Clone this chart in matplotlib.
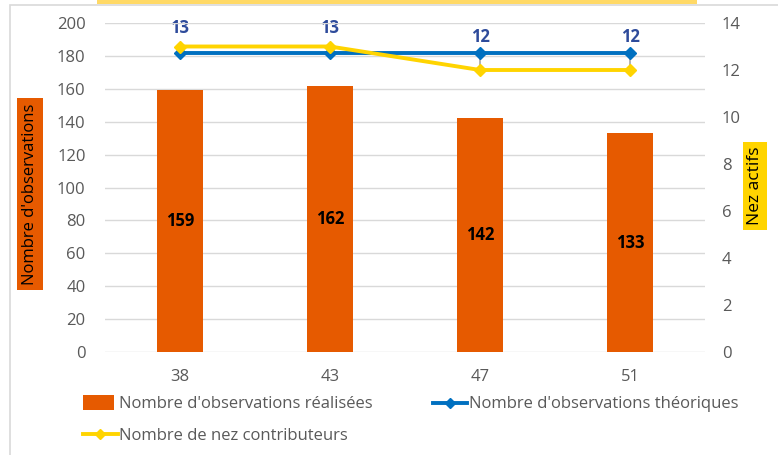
import matplotlib
matplotlib.use("Agg")
import matplotlib.pyplot as plt
from matplotlib.lines import Line2D
from matplotlib.patches import Patch, Rectangle
from matplotlib.legend_handler import HandlerPatch
import numpy as np

plt.rcParams['font.family'] = ['Open Sans', 'DejaVu Sans']

categories = ["38", "43", "47", "51"]
obs_realisees = [159, 162, 142, 133]
obs_theoriques = [182, 182, 182, 182]
nez_contributeurs = [13, 13, 12, 12]

ORANGE = "#E65A00"
BLUE = "#0070C0"
YELLOW = "#FFD400"
LABEL_BLUE = "#2E4B9B"
GRID = "#D9D9D9"
TICK = "#595959"

fig = plt.figure(figsize=(7.78, 4.55), dpi=100)
ax = fig.add_axes([105/778, 1-352/455, 600/778, 329/455])
ax2 = ax.twinx()

x = np.arange(len(categories))
ax.bar(x, obs_realisees, width=0.31, color=ORANGE, zorder=2)
for xi, v in zip(x, obs_realisees):
    ax.text(xi, v/2, str(v), ha='center', va='center', fontsize=12,
            fontweight='bold', color='black', zorder=5)

ax.set_xlim(-0.5, len(categories)-0.5)
ax.set_ylim(0, 200)
ax.set_yticks(range(0, 201, 20))
ax2.set_ylim(0, 14)
ax2.set_yticks(range(0, 15, 2))

# high-low style connectors between theoretical and contributors
scale = 200/14
ax.vlines(x, [n*scale for n in nez_contributeurs], obs_theoriques,
          colors="#A6A6A6", linewidth=1.2, zorder=3)

ax.plot(x, obs_theoriques, color=BLUE, linewidth=2.8, marker='D',
        markersize=6.5, zorder=4)
ax.plot(x, [n*scale for n in nez_contributeurs], color=YELLOW, linewidth=2.8,
        marker='D', markersize=6.5, zorder=4.5)

label_offsets = [13.5, 13.5, 24, 24]
for xi, n, off in zip(x, nez_contributeurs, label_offsets):
    ax2.annotate(str(n), (xi, n), xytext=(0, off), textcoords='offset points',
                 ha='center', va='center', fontsize=12, fontweight='bold',
                 color=LABEL_BLUE, zorder=6)

ax.set_zorder(ax2.get_zorder()+1)
ax.patch.set_visible(False)
ax2.set_zorder(0)

for a in (ax, ax2):
    for s in a.spines.values():
        s.set_visible(False)
    a.tick_params(length=0, colors=TICK, labelsize=12)

ax.grid(axis='y', color=GRID, linewidth=1.0, zorder=0)
ax.set_axisbelow(True)
ax.set_xticks(x)
ax.set_xticklabels(categories)
ax.tick_params(axis='x', pad=12)
ax.tick_params(axis='y', pad=14)
ax2.tick_params(axis='y', pad=12)

fig.text(30/778, 1-194/455, "Nombre d'observations", rotation=90, ha='center',
         va='center', fontsize=12, color='black',
         bbox=dict(boxstyle='square,pad=0.3', facecolor=ORANGE, edgecolor='none'))
fig.text(755/778, 1-186/455, "Nez actifs", rotation=90, ha='center',
         va='center', fontsize=12.5, color='black',
         bbox=dict(boxstyle='square,pad=0.25', facecolor=YELLOW, edgecolor='none'))


def narrow_patch(legend, orig_handle, xdescent, ydescent, width, height, fontsize):
    return Rectangle((-xdescent, -ydescent - 1), width*0.9, height + 2)


handles = [Patch(facecolor=ORANGE, edgecolor='none'),
           Line2D([0], [0], color=YELLOW, linewidth=2.8, marker='D', markersize=5),
           Line2D([0], [0], color=BLUE, linewidth=2.8, marker='D', markersize=5)]
labels = ["Nombre d'observations réalisées", "Nombre de nez contributeurs",
          "Nombre d'observations théoriques"]
leg = fig.legend(handles, labels, ncol=2, loc='upper left',
                 bbox_to_anchor=(80/778, 1-393/455), frameon=False,
                 fontsize=12, handlelength=2.05, handletextpad=0.1,
                 columnspacing=3.6, labelspacing=0.93, borderpad=0.2,
                 borderaxespad=0.0,
                 handler_map={Patch: HandlerPatch(patch_func=narrow_patch)})
for t in leg.get_texts():
    t.set_color(TICK)

# chart frame and cut-off title box
fig.add_artist(Rectangle((10/778, -0.1), 1.0, 1-5/455+0.1, transform=fig.transFigure,
                         fill=False, edgecolor="#D9D9D9", linewidth=1.2))
fig.add_artist(Rectangle((97/778, 1-4/455), 600/778, 4/455+0.01, transform=fig.transFigure,
                         facecolor="#FFD966", edgecolor='none'))

fig.savefig("out.png", dpi=100)
